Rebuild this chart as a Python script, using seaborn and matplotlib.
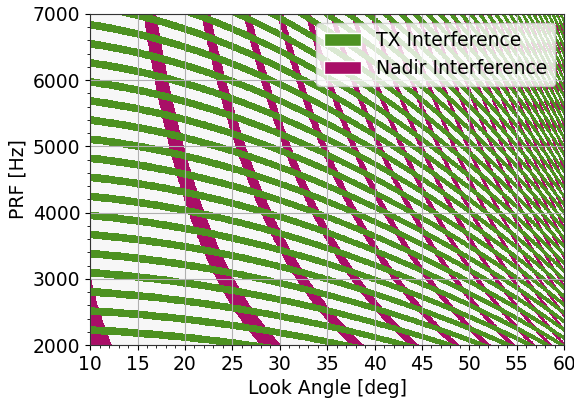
import numpy as np
import matplotlib
matplotlib.use('Agg')
import matplotlib.pyplot as plt
from matplotlib.patches import Patch
from matplotlib.ticker import MultipleLocator
import seaborn as sns

sns.set_style('ticks', {'axes.edgecolor': '#333333', 'text.color': 'black',
                        'axes.labelcolor': 'black', 'xtick.color': 'black',
                        'ytick.color': 'black'})
plt.rcParams['font.family'] = ['DejaVu Sans']
plt.rcParams['font.size'] = 13.5

# geometry / timing parameters
earth_radius = 6371e3       # m
orbit_height = 512e3        # m
light_speed = 3e8           # m/s
tx_window = [0.56, 0.91]        # echo phase (fraction of PRI) hitting TX
nadir_window = [0.0, 0.172]     # echo phase (fraction of PRI) hitting nadir echo

look_angle_range = [10, 60]
prf_range = [2000, 7000]
grid_size = [800, 800]      # look angle samples, prf samples

background = '#f7f7f7'
colors = ['#4d9221', '#a90e67']
labels = ['TX Interference', 'Nadir Interference']

look = np.linspace(look_angle_range[0], look_angle_range[1], grid_size[0])
prf = np.linspace(prf_range[0], prf_range[1], grid_size[1])
L, P = np.meshgrid(np.radians(look), prf)

# slant range on a spherical earth
rs = earth_radius + orbit_height
slant = rs * np.cos(L) - np.sqrt(earth_radius**2 - (rs * np.sin(L))**2)

tx_phase = np.mod(P * 2 * slant / light_speed, 1)
tx = ((tx_phase >= tx_window[0]) & (tx_phase <= tx_window[1])).astype(float)

nadir_phase = np.mod(P * 2 * (slant - orbit_height) / light_speed, 1)
nadir = ((nadir_phase >= nadir_window[0]) &
         (nadir_phase <= nadir_window[1])).astype(float)

fig, ax = plt.subplots(figsize=(5.74, 3.99), dpi=100)
ax.set_facecolor(background)
ax.contourf(look, prf, nadir, levels=[0.5, 1.5], colors=[colors[1]], zorder=0)
ax.contourf(look, prf, tx, levels=[0.5, 1.5], colors=[colors[0]], zorder=0.1)

ax.set_xlim(look_angle_range)
ax.set_ylim(prf_range)
ax.xaxis.set_major_locator(MultipleLocator(5))
ax.xaxis.set_minor_locator(MultipleLocator(1))
ax.yaxis.set_major_locator(MultipleLocator(1000))
ax.yaxis.set_minor_locator(MultipleLocator(200))
ax.grid(True, which='major', color='#b0b0b0', linewidth=0.8, zorder=0.5)
ax.set_axisbelow(True)
ax.set_xlabel('Look Angle [deg]')
ax.set_ylabel('PRF [Hz]')

handles = [Patch(facecolor=colors[0], label=labels[0]),
           Patch(facecolor=colors[1], label=labels[1])]
ax.legend(handles=handles, loc='upper right', framealpha=0.8)

fig.subplots_adjust(left=0.157, right=0.983, top=0.965, bottom=0.135)
fig.savefig('out.png', dpi=100)
